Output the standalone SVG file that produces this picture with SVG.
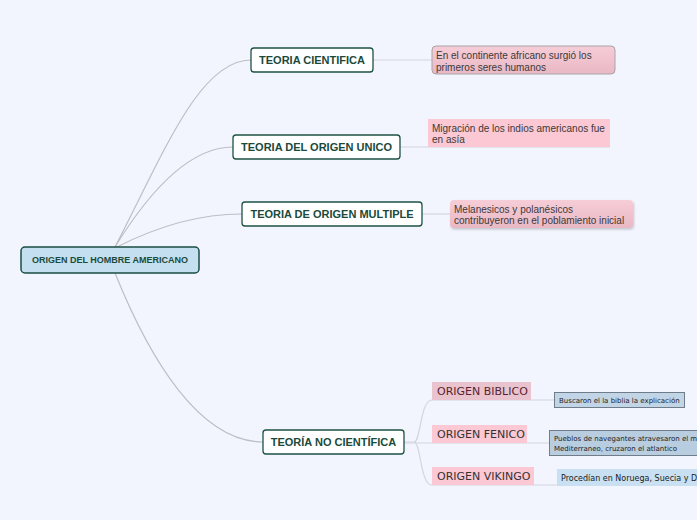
<svg xmlns="http://www.w3.org/2000/svg" width="697" height="520" viewBox="0 0 697 520">
<defs>
<style>
.conn{fill:none;stroke:#bdbdc6;stroke-width:1.2}
.sub{fill:none;stroke:#d3d6de;stroke-width:1.2}
.node rect{fill:#ffffff;stroke:#1d5243;stroke-width:1.3}
.node text{font-family:"Liberation Sans",Arial,sans-serif;font-weight:bold;font-size:11px;fill:#1b4a3b;text-anchor:middle}
.note text{font-family:"Liberation Sans",Arial,sans-serif;font-size:10px;fill:#3a3a3a}
.orig text{font-family:"DejaVu Sans",Verdana,sans-serif;font-size:11px;fill:#333}
.small text{font-family:"DejaVu Sans",Verdana,sans-serif;font-size:7px;fill:#222}
</style>
<linearGradient id="pinkg" x1="0" y1="0" x2="0" y2="1">
<stop offset="0" stop-color="#f6cdd7"/>
<stop offset="1" stop-color="#e9b8c4"/>
</linearGradient>
<filter id="sh" x="-10%" y="-20%" width="120%" height="150%">
<feDropShadow dx="1" dy="1.5" stdDeviation="1" flood-color="#000" flood-opacity="0.2"/>
</filter>
</defs>
<rect width="697" height="520" fill="#f2f5fe"/>

<g id="connectors">
<path class="conn" d="M115,247 C165,150 200,60 251,60"/>
<path class="conn" d="M115,247 C150,190 190,147 233,147"/>
<path class="conn" d="M117,247 C160,225 200,214 242,214"/>
<path class="conn" d="M115,273 C150,360 200,442 263,442"/>
<path class="sub" d="M373,60 L432,60"/>
<path class="sub" d="M400,147 L610,147"/>
<path class="sub" d="M422,214 L450,214"/>
<path class="sub" d="M404,442 L414,442 C421,442 420,400 432,400 L555,400"/>
<path class="sub" d="M404,443 L549,443"/>
<path class="sub" d="M414,442 C421,442 420,485 432,485 L557,485"/>
</g>

<g id="root">
<rect x="21" y="247" width="178" height="26" rx="4" fill="#c4dff0" stroke="#1a4d40" stroke-width="1.5"/>
<text x="110" y="263" font-family="Liberation Sans, Arial, sans-serif" font-weight="bold" font-size="9" fill="#1b4a3b" text-anchor="middle">ORIGEN DEL HOMBRE AMERICANO</text>
</g>

<g id="teoria-cientifica" class="node">
<rect x="251" y="48" width="122" height="24" rx="3"/>
<text x="312" y="64">TEORIA CIENTIFICA</text>
</g>
<g id="teoria-origen-unico" class="node">
<rect x="233" y="135" width="167" height="24" rx="3"/>
<text x="316.5" y="151">TEORIA DEL ORIGEN UNICO</text>
</g>
<g id="teoria-origen-multiple" class="node">
<rect x="242" y="202" width="180" height="24" rx="3"/>
<text x="332" y="218">TEORIA DE ORIGEN MULTIPLE</text>
</g>
<g id="teoria-no-cientifica" class="node">
<rect x="263" y="430" width="141" height="24" rx="3"/>
<text x="333.5" y="446">TEORÍA NO CIENTÍFICA</text>
</g>

<g id="nota-africa" class="note">
<rect x="432" y="46" width="183" height="28" rx="4" fill="url(#pinkg)" stroke="#a9a3a8" stroke-width="1"/>
<text x="436" y="58.5">En el continente africano surgió los</text>
<text x="436" y="70.5">primeros seres humanos</text>
</g>
<g id="nota-asia" class="note">
<rect x="428" y="119" width="182" height="28" fill="#fbc8d3"/>
<text x="432" y="131.5">Migración de los indios americanos fue</text>
<text x="432" y="143">en asía</text>
</g>
<g id="nota-melanesicos" class="note">
<rect x="450" y="200" width="183" height="28" rx="4" fill="url(#pinkg)" filter="url(#sh)"/>
<text x="454" y="212.5">Melanesicos y polanésicos</text>
<text x="454" y="224">contribuyeron en el poblamiento inicial</text>
</g>

<g id="origen-biblico" class="orig">
<rect x="432" y="382" width="99" height="18" fill="#e9c4ce"/>
<text x="437" y="395" style="fill:#5a1f30">ORIGEN BIBLICO</text>
</g>
<g id="origen-fenico" class="orig">
<rect x="432" y="425" width="95" height="18" fill="#fbc8d3"/>
<text x="437" y="438">ORIGEN FENICO</text>
</g>
<g id="origen-vikingo" class="orig">
<rect x="432" y="467" width="102" height="18" fill="#fbc8d3"/>
<text x="437" y="480">ORIGEN VIKINGO</text>
</g>

<g id="nota-biblia" class="small">
<rect x="554.5" y="392.5" width="130" height="15" fill="#c2d5e6" stroke="#6f7d8a" stroke-width="1"/>
<text x="559" y="402.5">Buscaron el la biblia la explicación</text>
</g>
<g id="nota-fenicios" class="small">
<rect x="549.5" y="430.5" width="150" height="25" fill="#b9cde0" stroke="#6f7d8a" stroke-width="1"/>
<text x="554" y="440.5">Pueblos de navegantes atravesaron el m</text>
<text x="554" y="450.5">Mediterraneo, cruzaron el atlantico</text>
</g>
<g id="nota-vikingos" class="small">
<rect x="557" y="469" width="145" height="17" fill="#c8e0f1"/>
<text x="561" y="480.5" style="font-size:8px">Procedían en Noruega, Suecia y D</text>
</g>
</svg>
